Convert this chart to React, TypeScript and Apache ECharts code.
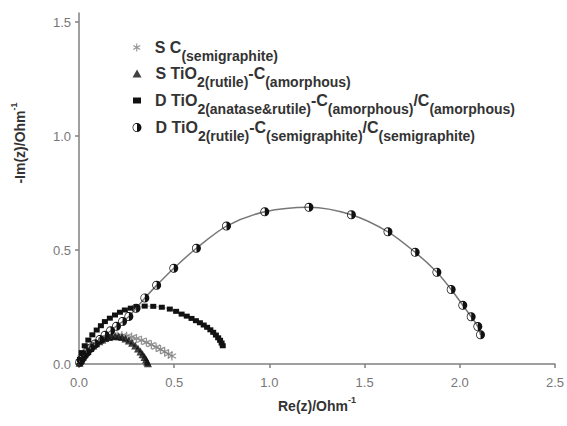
import React, { useEffect, useRef } from "react";
import * as echarts from "echarts";

// ---- data (Re, -Im) ----
const reSC = [0.005, 0.015, 0.03, 0.047, 0.065, 0.085, 0.106, 0.128, 0.151, 0.175, 0.2, 0.225, 0.25, 0.276, 0.302, 0.328, 0.354, 0.38, 0.405, 0.428, 0.45, 0.47, 0.488];
const imSC = [0.01, 0.028, 0.045, 0.061, 0.075, 0.088, 0.099, 0.108, 0.115, 0.12, 0.123, 0.124, 0.122, 0.118, 0.112, 0.104, 0.095, 0.085, 0.074, 0.064, 0.054, 0.044, 0.035];

const reSTi = [0.003, 0.01, 0.02, 0.032, 0.045, 0.06, 0.075, 0.09, 0.106, 0.122, 0.138, 0.155, 0.172, 0.19, 0.208, 0.226, 0.244, 0.262, 0.279, 0.295, 0.31, 0.323, 0.334, 0.344, 0.352, 0.358, 0.362];
const imSTi = [0.005, 0.018, 0.032, 0.046, 0.058, 0.07, 0.081, 0.091, 0.1, 0.108, 0.114, 0.119, 0.122, 0.123, 0.122, 0.118, 0.112, 0.103, 0.093, 0.081, 0.068, 0.055, 0.043, 0.031, 0.02, 0.01, 0.003];

const reDAR = [0.005, 0.014, 0.03, 0.049, 0.07, 0.093, 0.115, 0.136, 0.162, 0.189, 0.215, 0.241, 0.272, 0.303, 0.345, 0.39, 0.435, 0.477, 0.51, 0.539, 0.566, 0.591, 0.614, 0.635, 0.655, 0.673, 0.69, 0.705, 0.719, 0.731, 0.741, 0.749, 0.755];
const imDAR = [0.02, 0.05, 0.08, 0.105, 0.128, 0.149, 0.168, 0.186, 0.201, 0.215, 0.227, 0.237, 0.245, 0.251, 0.254, 0.253, 0.249, 0.241, 0.231, 0.219, 0.21, 0.2, 0.19, 0.181, 0.171, 0.161, 0.15, 0.139, 0.127, 0.115, 0.104, 0.092, 0.08];

const reDRS = [0.004, 0.012, 0.025, 0.042, 0.062, 0.085, 0.11, 0.137, 0.166, 0.197, 0.229, 0.262, 0.3, 0.346, 0.408, 0.498, 0.617, 0.775, 0.976, 1.208, 1.431, 1.623, 1.766, 1.88, 1.955, 2.016, 2.06, 2.095, 2.109];
const imDRS = [0.008, 0.02, 0.035, 0.052, 0.07, 0.088, 0.107, 0.126, 0.146, 0.166, 0.186, 0.208, 0.245, 0.29, 0.345, 0.42, 0.508, 0.605, 0.668, 0.688, 0.655, 0.58, 0.49, 0.403, 0.327, 0.258, 0.207, 0.164, 0.128];

const seriesNames = [
  "S C(semigraphite)",
  "S TiO2(rutile)-C(amorphous)",
  "D TiO2(anatase&rutile)-C(amorphous)/C(amorphous)",
  "D TiO2(rutile)-C(semigraphite)/C(semigraphite)",
];
const legendRich = [
  "{g|}{m|S C}{s|(semigraphite)}",
  "{g|}{m|S TiO}{s|2(rutile)}{m|-C}{s|(amorphous)}",
  "{g|}{m|D TiO}{s|2(anatase&rutile)}{m|-C}{s|(amorphous)}{m|/C}{s|(amorphous)}",
  "{g|}{m|D TiO}{s|2(rutile)}{m|-C}{s|(semigraphite)}{m|/C}{s|(semigraphite)}",
];
const xTicks = [0, 0.5, 1, 1.5, 2, 2.5];
const yTicks = [0, 0.5, 1, 1.5];

const zip = (xs: number[], ys: number[]) => xs.map((x, i) => [x, ys[i]]);

const ASTERISK =
  "path://M-1.4,-10 L1.4,-10 L1.4,10 L-1.4,10 Z M9.36,3.79 L7.96,6.21 L-9.36,-3.79 L-7.96,-6.21 Z M7.96,-6.21 L9.36,-3.79 L-7.96,6.21 L-9.36,3.79 Z";
const HALF =
  "path://M0,-10 C5.52,-10 10,-5.52 10,0 C10,5.52 5.52,10 0,10 Z M0,-10 C-5.52,-10 -10,-5.52 -10,0 C-10,5.52 -5.52,10 0,10 L0,8.4 C-4.64,8.4 -8.4,4.64 -8.4,0 C-8.4,-4.64 -4.64,-8.4 0,-8.4 Z";
const icons = [ASTERISK, "triangle", "rect", HALF];
const iconSizes = [[8, 8], [9, 8], [8, 6], [9, 9]];
const rowCenters = [48, 74, 101, 128];

export default function App() {
  const ref = useRef<HTMLDivElement>(null);
  useEffect(() => {
    if (!ref.current) return;
    const chart = echarts.init(ref.current, undefined, { renderer: "svg" });
    const rich = {
      g: { width: 9 },
      m: { fontSize: 16, fontWeight: "bold", color: "#333", fontFamily: "Liberation Sans", verticalAlign: "middle", lineHeight: 31 },
      s: { fontSize: 14, fontWeight: "bold", color: "#333", fontFamily: "Liberation Sans", verticalAlign: "bottom", lineHeight: 31 },
    };
    const legends = seriesNames.map((name, i) => ({
      data: [{ name, icon: icons[i] }],
      left: 137 - iconSizes[i][0] / 2,
      top: rowCenters[i] - 8.5,
      padding: 0,
      itemWidth: iconSizes[i][0],
      itemHeight: iconSizes[i][1],
      selectedMode: false,
      formatter: () => legendRich[i],
      textStyle: { rich },
    }));
    chart.setOption({
      animation: false,
      backgroundColor: "#fff",
      grid: { left: 79, right: 12, top: 13, bottom: 62 },
      legend: legends,
      xAxis: {
        type: "value",
        min: 0,
        max: 2.5,
        interval: 0.5,
        name: "{b|Re(z)/Ohm}{sup|-1}",
        nameLocation: "middle",
        nameGap: 31,
        nameTextStyle: {
          rich: {
            b: { fontSize: 14, fontWeight: "bold", color: "#333", fontFamily: "Liberation Sans", verticalAlign: "bottom", lineHeight: 18 },
            sup: { fontSize: 9, fontWeight: "bold", color: "#333", fontFamily: "Liberation Sans", verticalAlign: "top", lineHeight: 18 },
          },
        },
        splitLine: { show: false },
        axisLine: { lineStyle: { color: "#808080", width: 1.5 } },
        axisTick: { show: true, inside: false, length: 4, lineStyle: { color: "#808080", width: 1.5 }, customValues: xTicks },
        axisLabel: { customValues: xTicks, formatter: (v: number) => v.toFixed(1), color: "#777", fontSize: 13, fontFamily: "Liberation Sans", margin: 12 },
      },
      yAxis: {
        type: "value",
        min: 0,
        max: 1.54,
        interval: 0.5,
        splitLine: { show: false },
        axisLine: { show: true, lineStyle: { color: "#808080", width: 1.5 } },
        axisTick: { show: true, inside: false, length: 4, lineStyle: { color: "#808080", width: 1.5 }, customValues: yTicks },
        axisLabel: { customValues: yTicks, formatter: (v: number) => v.toFixed(1), color: "#777", fontSize: 13, fontFamily: "Liberation Sans", margin: 8 },
      },
      graphic: [
        {
          type: "text",
          x: 18,
          y: 143,
          rotation: Math.PI / 2,
          style: {
            text: "{b|-Im(z)/Ohm}{sup|-1}",
            align: "center",
            verticalAlign: "middle",
            rich: {
              b: { fontSize: 14, fontWeight: "bold", fill: "#333", fontFamily: "Liberation Sans", verticalAlign: "bottom", lineHeight: 18 },
              sup: { fontSize: 9, fontWeight: "bold", fill: "#333", fontFamily: "Liberation Sans", verticalAlign: "top", lineHeight: 18 },
            },
          },
        },
      ],
      series: [
        {
          name: seriesNames[0],
          type: "scatter",
          data: zip(reSC, imSC),
          symbol: ASTERISK,
          symbolSize: 9,
          itemStyle: { color: "#7a7a7a" },
          z: 2,
        },
        {
          name: seriesNames[1],
          type: "scatter",
          data: zip(reSTi, imSTi),
          symbol: "triangle",
          symbolSize: 8,
          itemStyle: { color: "#111" },
          z: 3,
        },
        {
          name: seriesNames[2],
          type: "line",
          data: zip(reDAR, imDAR),
          symbol: "rect",
          symbolSize: [6, 5],
          showAllSymbol: true,
          smooth: 0.3,
          lineStyle: { color: "#aaa", width: 1 },
          itemStyle: { color: "#111" },
          z: 4,
        },
        {
          name: seriesNames[3],
          type: "line",
          data: zip(reDRS, imDRS),
          symbol: HALF,
          symbolSize: 9,
          showAllSymbol: true,
          smooth: 0.3,
          lineStyle: { color: "#777", width: 1.5 },
          itemStyle: { color: "#111" },
          z: 5,
        },
      ],
    });
    return () => chart.dispose();
  }, []);
  return <div ref={ref} style={{ position: "fixed", left: 0, top: 0, width: 567, height: 426 }} />;
}
